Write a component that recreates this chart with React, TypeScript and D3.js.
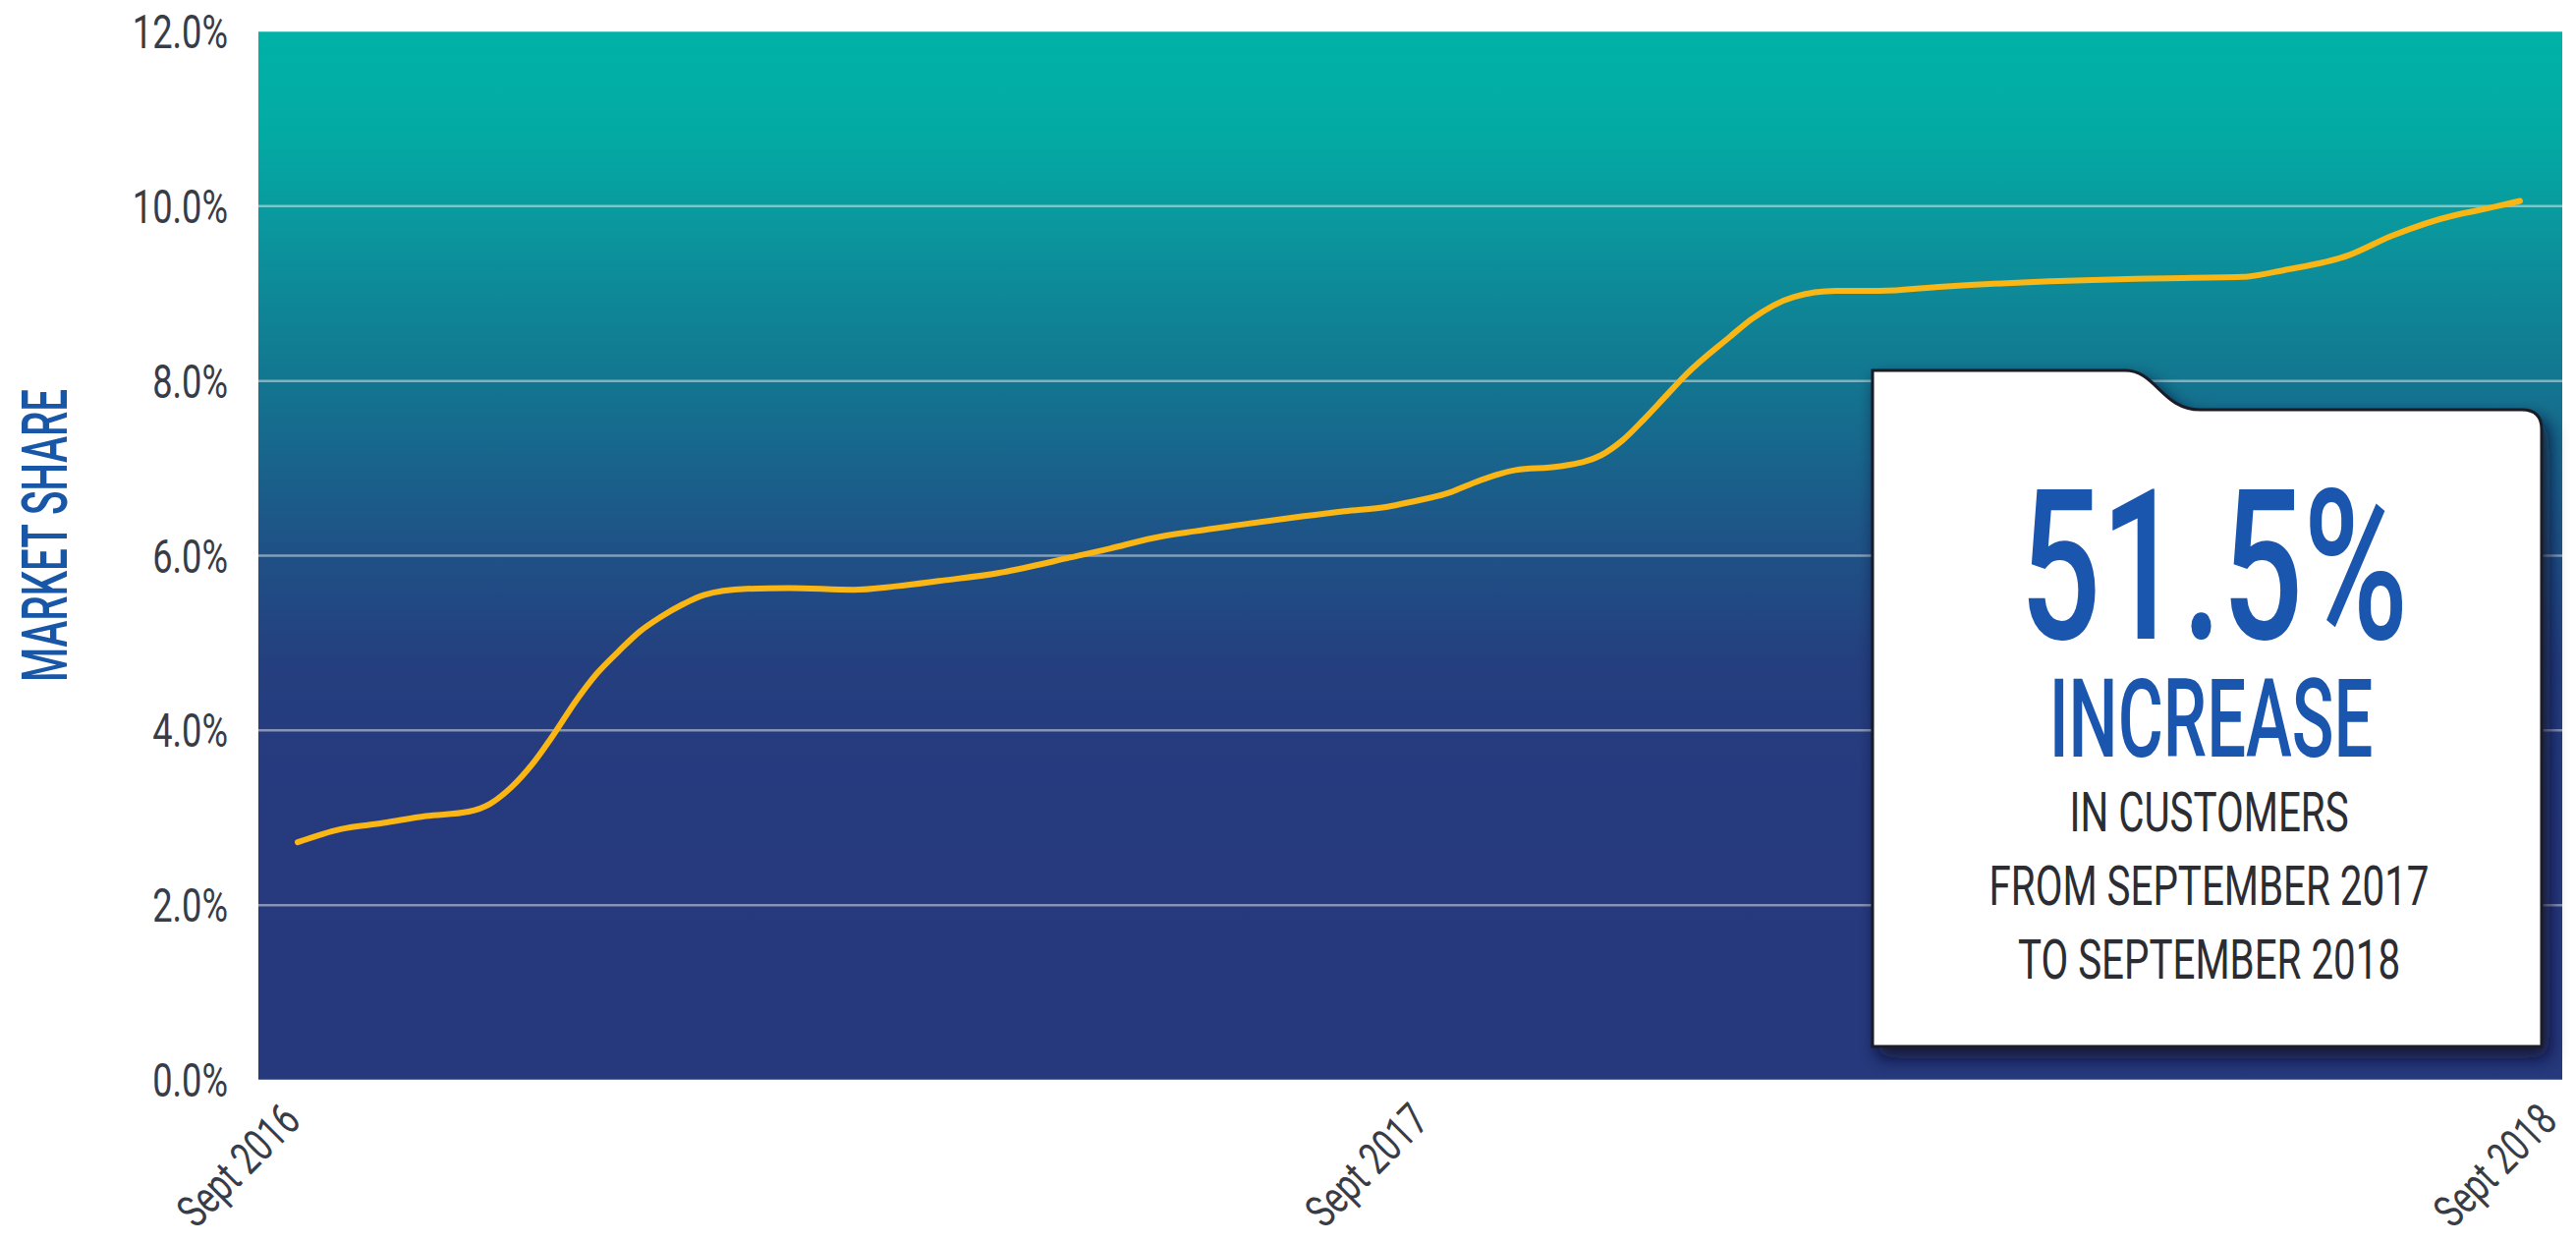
import React from "react";
import * as d3 from "d3";

// ---- data ----
const weekIndex = [0, 2, 4, 6, 8, 9, 10, 11, 12, 13, 14, 15, 16, 17, 18, 19, 21, 23, 26, 28, 30, 33, 34, 36, 38, 40, 42, 44, 47, 49, 51, 52, 54, 55, 57, 59, 61, 62, 63, 64, 65, 67, 68, 70, 72, 74, 77, 82, 86, 91, 93, 96, 98, 101, 102, 104];
const marketShare = [2.72, 2.87, 2.94, 3.02, 3.07, 3.16, 3.35, 3.62, 3.96, 4.33, 4.65, 4.9, 5.13, 5.3, 5.44, 5.55, 5.62, 5.63, 5.61, 5.65, 5.71, 5.81, 5.86, 5.97, 6.08, 6.2, 6.28, 6.35, 6.45, 6.51, 6.56, 6.61, 6.73, 6.83, 6.98, 7.02, 7.15, 7.32, 7.56, 7.82, 8.08, 8.5, 8.7, 8.96, 9.03, 9.03, 9.08, 9.14, 9.17, 9.19, 9.27, 9.44, 9.66, 9.9, 9.95, 10.06];
const xTickLabels = ["Sept 2016", "Sept 2017", "Sept 2018"];
const yTicks = [0, 2, 4, 6, 8, 10, 12];
const yAxisTitle = "MARKET SHARE";
const calloutBig = "51.5%";
const calloutMid = "INCREASE";
const calloutLines = ["IN CUSTOMERS", "FROM SEPTEMBER 2017", "TO SEPTEMBER 2018"];

const W = 2622;
const H = 1264;
const plot = { left: 263, right: 2608, top: 32, bottom: 1099 };
const FONT = "Roboto, 'Open Sans', sans-serif";

export default function App() {
  const x = d3.scaleLinear().domain([0, 104]).range([plot.left + 40, plot.right - 43]);
  const y = d3.scaleLinear().domain([0, 12]).range([plot.bottom, plot.top]);
  const xLab = d3.scalePoint<string>().domain(xTickLabels).range([plot.left + 45, plot.right - 3]);

  const data = weekIndex.map((w, i) => ({ w, v: marketShare[i] }));
  const line = d3
    .line<{ w: number; v: number }>()
    .x((d) => x(d.w))
    .y((d) => y(d.v))
    .curve(d3.curveMonotoneX);

  // callout box geometry
  const bx0 = 1906, bx1 = 2587, by0 = 377, byTab = 417, by1 = 1065;
  const boxPath = [
    `M${bx0},${by0}`,
    `L2163,${by0}`,
    `C2195,${by0} 2200,${byTab} 2240,${byTab}`,
    `L${bx1 - 20},${byTab}`,
    `Q${bx1},${byTab} ${bx1},${byTab + 20}`,
    `L${bx1},${by1}`,
    `L${bx0},${by1}`,
    "Z",
  ].join(" ");
  const bcx = (bx0 + bx1) / 2;

  return (
    <svg
      width={W}
      height={H}
      style={{ position: "absolute", left: 0, top: 0, background: "#fff" }}
    >
      <defs>
        <linearGradient id="bg" x1="0" y1="0" x2="0" y2="1">
          <stop offset="0" stopColor="#00b2a7" />
          <stop offset="0.1" stopColor="#03aaa4" />
          <stop offset="0.2" stopColor="#0b949c" />
          <stop offset="0.34" stopColor="#137490" />
          <stop offset="0.47" stopColor="#1d5688" />
          <stop offset="0.6" stopColor="#243f7f" />
          <stop offset="0.72" stopColor="#263a7e" />
          <stop offset="1" stopColor="#26397d" />
        </linearGradient>
        <filter id="shadow" x="-10%" y="-10%" width="130%" height="130%">
          <feDropShadow dx="6" dy="10" stdDeviation="9" floodColor="#0a0f2a" floodOpacity="0.85" />
        </filter>
      </defs>

      {/* plot background */}
      <rect
        x={plot.left}
        y={plot.top}
        width={plot.right - plot.left}
        height={plot.bottom - plot.top}
        fill="url(#bg)"
      />

      {/* gridlines */}
      {yTicks.map((t) => (
        <line
          key={t}
          x1={plot.left}
          x2={plot.right}
          y1={y(t)}
          y2={y(t)}
          stroke="#ffffff"
          strokeOpacity={t === 0 || t === 12 ? 0.35 : 0.45}
          strokeWidth={t === 0 || t === 12 ? 1.5 : 2.5}
        />
      ))}

      {/* y tick labels */}
      {yTicks.map((t) => (
        <text
          key={t}
          transform={`translate(232,${y(t) + 17}) scale(0.74,1)`}
          textAnchor="end"
          fontFamily={FONT}
          fontSize={49}
          fill="#383c46"
        >
          {t.toFixed(1) + "%"}
        </text>
      ))}

      {/* y axis title */}
      <text
        transform={`translate(68,545) rotate(-90) scale(0.63,1)`}
        textAnchor="middle"
        fontFamily={FONT}
        fontWeight={500}
        fontSize={64}
        fill="#1857a8"
      >
        {yAxisTitle}
      </text>

      {/* x tick labels */}
      {xTickLabels.map((l) => (
        <text
          key={l}
          transform={`translate(${xLab(l)},${plot.bottom + 44}) rotate(-45) scale(0.74,1)`}
          textAnchor="end"
          fontFamily={FONT}
          fontSize={46}
          fill="#383c46"
        >
          {l}
        </text>
      ))}

      {/* callout */}
      <path d={boxPath} fill="#ffffff" stroke="#1b1d26" strokeWidth={3} filter="url(#shadow)" />
      <text
        transform={`translate(${bcx + 7},650) scale(0.68,1)`}
        textAnchor="middle"
        fontFamily={FONT}
        fontWeight={500}
        fontSize={214}
        fill="#1a56ad"
      >
        {calloutBig}
      </text>
      <text
        transform={`translate(${bcx + 4},770) scale(0.63,1)`}
        textAnchor="middle"
        fontFamily={FONT}
        fontWeight={500}
        fontSize={112}
        fill="#1a56ad"
      >
        {calloutMid}
      </text>
      {calloutLines.map((s, i) => (
        <text
          key={s}
          transform={`translate(${bcx + 2},${846 + i * 75}) scale(0.72,1)`}
          textAnchor="middle"
          fontFamily={FONT}
          fontSize={56}
          fill="#2b2d33"
        >
          {s}
        </text>
      ))}

      {/* data line */}
      <path
        d={line(data) ?? ""}
        fill="none"
        stroke="#f9b614"
        strokeWidth={6}
        strokeLinecap="round"
        strokeLinejoin="round"
      />
    </svg>
  );
}
